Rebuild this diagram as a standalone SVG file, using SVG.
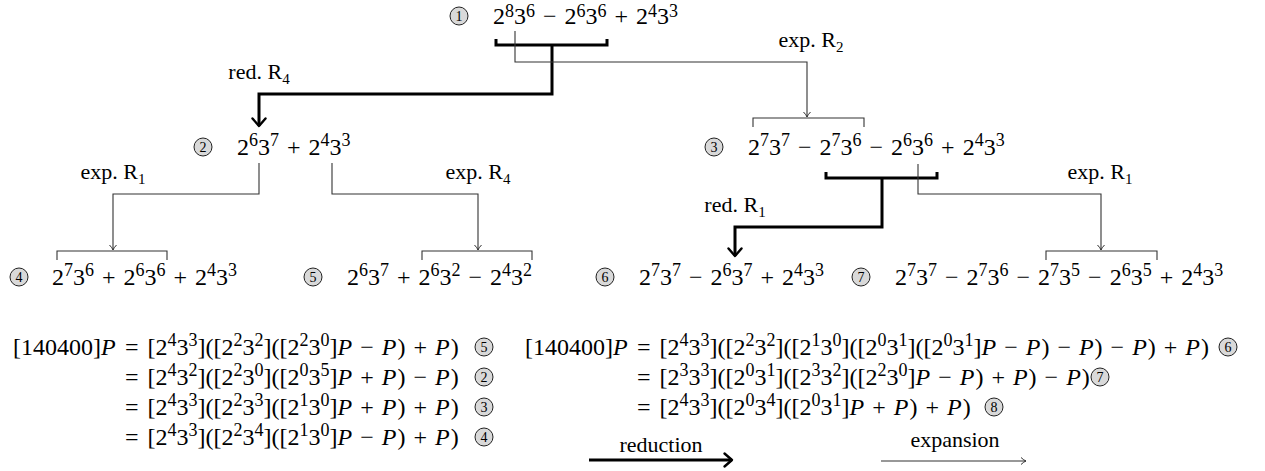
<svg xmlns="http://www.w3.org/2000/svg" width="1265" height="471" viewBox="0 0 1265 471">
<style>
.m{font-family:"Liberation Serif",serif;font-size:24px;fill:#000}
.s{font-size:18px}
.i{font-style:italic}
.lbl{font-family:"Liberation Serif",serif;font-size:22px;text-anchor:middle;fill:#000}
.sub{font-size:15px}
.thin{stroke:#333;stroke-width:1.1;fill:none}
.thick{stroke:#000;stroke-width:3;fill:none;stroke-linejoin:miter}
.cn circle{fill:#d9d9d9;stroke:#222;stroke-width:1}
.cn text{font-family:"Liberation Serif",serif;font-size:14px;text-anchor:middle;fill:#000}
</style>
<defs>
<marker id="ah" markerUnits="userSpaceOnUse" markerWidth="1" markerHeight="1" refX="0" refY="0" orient="auto" overflow="visible"><path d="M-7.5,-6.5 L0,0 L-7.5,6.5" fill="none" stroke="#000" stroke-width="2.4" stroke-linecap="round" stroke-linejoin="round"/></marker>
<marker id="at" markerUnits="userSpaceOnUse" markerWidth="1" markerHeight="1" refX="0" refY="0" orient="auto" overflow="visible"><path d="M-5,-3.5 Q-2,-0.6 0,0 Q-2,0.6 -5,3.5" fill="none" stroke="#333" stroke-width="1"/></marker>
</defs>

<g id="n1">
<g class="cn"><circle cx="459" cy="16" r="9"/><text x="459" y="21">1</text></g>
<text class="m" x="493" y="24">2<tspan class="s" dy="-7">8</tspan><tspan dy="7">3</tspan><tspan class="s" dy="-7">6</tspan><tspan dy="7" dx="8">−</tspan><tspan dx="8">2</tspan><tspan class="s" dy="-7">6</tspan><tspan dy="7">3</tspan><tspan class="s" dy="-7">6</tspan><tspan dy="7" dx="8">+</tspan><tspan dx="8">2</tspan><tspan class="s" dy="-7">4</tspan><tspan dy="7">3</tspan><tspan class="s" dy="-7">3</tspan></text>
</g>

<g id="n2">
<g class="cn"><circle cx="203" cy="147" r="9"/><text x="203" y="152">2</text></g>
<text class="m" x="237" y="155">2<tspan class="s" dy="-9">6</tspan><tspan dy="9">3</tspan><tspan class="s" dy="-9">7</tspan><tspan dy="9" dx="8">+</tspan><tspan dx="8">2</tspan><tspan class="s" dy="-9">4</tspan><tspan dy="9">3</tspan><tspan class="s" dy="-9">3</tspan></text>
</g>

<g id="n3">
<g class="cn"><circle cx="714" cy="147" r="9"/><text x="714" y="152">3</text></g>
<text class="m" x="748" y="155">2<tspan class="s" dy="-9">7</tspan><tspan dy="9">3</tspan><tspan class="s" dy="-9">7</tspan><tspan dy="9" dx="8">−</tspan><tspan dx="8">2</tspan><tspan class="s" dy="-9">7</tspan><tspan dy="9">3</tspan><tspan class="s" dy="-9">6</tspan><tspan dy="9" dx="8">−</tspan><tspan dx="8">2</tspan><tspan class="s" dy="-9">6</tspan><tspan dy="9">3</tspan><tspan class="s" dy="-9">6</tspan><tspan dy="9" dx="8">+</tspan><tspan dx="8">2</tspan><tspan class="s" dy="-9">4</tspan><tspan dy="9">3</tspan><tspan class="s" dy="-9">3</tspan></text>
</g>

<g id="n4">
<g class="cn"><circle cx="19" cy="277" r="9"/><text x="19" y="282">4</text></g>
<text class="m" x="52" y="285">2<tspan class="s" dy="-9">7</tspan><tspan dy="9">3</tspan><tspan class="s" dy="-9">6</tspan><tspan dy="9" dx="8">+</tspan><tspan dx="8">2</tspan><tspan class="s" dy="-9">6</tspan><tspan dy="9">3</tspan><tspan class="s" dy="-9">6</tspan><tspan dy="9" dx="8">+</tspan><tspan dx="8">2</tspan><tspan class="s" dy="-9">4</tspan><tspan dy="9">3</tspan><tspan class="s" dy="-9">3</tspan></text>
</g>

<g id="n5">
<g class="cn"><circle cx="313" cy="277" r="9"/><text x="313" y="282">5</text></g>
<text class="m" x="347" y="285">2<tspan class="s" dy="-9">6</tspan><tspan dy="9">3</tspan><tspan class="s" dy="-9">7</tspan><tspan dy="9" dx="8">+</tspan><tspan dx="8">2</tspan><tspan class="s" dy="-9">6</tspan><tspan dy="9">3</tspan><tspan class="s" dy="-9">2</tspan><tspan dy="9" dx="8">−</tspan><tspan dx="8">2</tspan><tspan class="s" dy="-9">4</tspan><tspan dy="9">3</tspan><tspan class="s" dy="-9">2</tspan></text>
</g>

<g id="n6">
<g class="cn"><circle cx="605" cy="277" r="9"/><text x="605" y="282">6</text></g>
<text class="m" x="639" y="285">2<tspan class="s" dy="-9">7</tspan><tspan dy="9">3</tspan><tspan class="s" dy="-9">7</tspan><tspan dy="9" dx="8">−</tspan><tspan dx="8">2</tspan><tspan class="s" dy="-9">6</tspan><tspan dy="9">3</tspan><tspan class="s" dy="-9">7</tspan><tspan dy="9" dx="8">+</tspan><tspan dx="8">2</tspan><tspan class="s" dy="-9">4</tspan><tspan dy="9">3</tspan><tspan class="s" dy="-9">3</tspan></text>
</g>

<g id="n7">
<g class="cn"><circle cx="861" cy="277" r="9"/><text x="861" y="282">7</text></g>
<text class="m" x="895" y="285">2<tspan class="s" dy="-9">7</tspan><tspan dy="9">3</tspan><tspan class="s" dy="-9">7</tspan><tspan dy="9" dx="8">−</tspan><tspan dx="8">2</tspan><tspan class="s" dy="-9">7</tspan><tspan dy="9">3</tspan><tspan class="s" dy="-9">6</tspan><tspan dy="9" dx="8">−</tspan><tspan dx="8">2</tspan><tspan class="s" dy="-9">7</tspan><tspan dy="9">3</tspan><tspan class="s" dy="-9">5</tspan><tspan dy="9" dx="8">−</tspan><tspan dx="8">2</tspan><tspan class="s" dy="-9">6</tspan><tspan dy="9">3</tspan><tspan class="s" dy="-9">5</tspan><tspan dy="9" dx="8">+</tspan><tspan dx="8">2</tspan><tspan class="s" dy="-9">4</tspan><tspan dy="9">3</tspan><tspan class="s" dy="-9">3</tspan></text>
</g>

<g id="connectors">
<path class="thick" d="M496,39 V45 H607 V39"/>
<path class="thick" d="M552,45 V94 H259 V126" marker-end="url(#ah)"/>
<path class="thin" d="M515,31 V62 H807 V117" marker-end="url(#at)"/>
<path class="thin" d="M753,127 V118 H864 V127"/>
<path class="thin" d="M259,163 V194 H113 V250" marker-end="url(#at)"/>
<path class="thin" d="M57,260 V251 H167 V260"/>
<path class="thin" d="M332,163 V194 H478 V250" marker-end="url(#at)"/>
<path class="thin" d="M422,260 V251 H532 V260"/>
<path class="thick" d="M826,172 V178 H937 V172"/>
<path class="thick" d="M882,178 V227 H735 V256" marker-end="url(#ah)"/>
<path class="thin" d="M918,164 V194 H1101 V250" marker-end="url(#at)"/>
<path class="thin" d="M1046,260 V251 H1157 V260"/>
</g>

<g id="edge-labels">
<text class="lbl" x="259" y="79">red. R<tspan class="sub" dy="5">4</tspan></text>
<text class="lbl" x="811" y="47">exp. R<tspan class="sub" dy="5">2</tspan></text>
<text class="lbl" x="113" y="179">exp. R<tspan class="sub" dy="5">1</tspan></text>
<text class="lbl" x="478" y="179">exp. R<tspan class="sub" dy="5">4</tspan></text>
<text class="lbl" x="735" y="212">red. R<tspan class="sub" dy="5">1</tspan></text>
<text class="lbl" x="1100" y="179">exp. R<tspan class="sub" dy="5">1</tspan></text>
</g>

<g id="equations-left">
<text class="m" x="13" y="355">[140400]<tspan class="i">P</tspan></text>
<text class="m" x="125" y="355">=<tspan dx="9">[2</tspan><tspan class="s" dy="-9">4</tspan><tspan dy="9">3</tspan><tspan class="s" dy="-9">3</tspan><tspan dy="9">]([2</tspan><tspan class="s" dy="-9">2</tspan><tspan dy="9">3</tspan><tspan class="s" dy="-9">2</tspan><tspan dy="9">]([2</tspan><tspan class="s" dy="-9">2</tspan><tspan dy="9">3</tspan><tspan class="s" dy="-9">0</tspan><tspan dy="9">]</tspan><tspan class="i">P</tspan><tspan dx="8">−</tspan><tspan class="i" dx="8">P</tspan><tspan dx="1">)</tspan><tspan dx="8">+</tspan><tspan class="i" dx="8">P</tspan><tspan dx="1">)</tspan></text>
<text class="m" x="125" y="385">=<tspan dx="9">[2</tspan><tspan class="s" dy="-9">4</tspan><tspan dy="9">3</tspan><tspan class="s" dy="-9">2</tspan><tspan dy="9">]([2</tspan><tspan class="s" dy="-9">2</tspan><tspan dy="9">3</tspan><tspan class="s" dy="-9">0</tspan><tspan dy="9">]([2</tspan><tspan class="s" dy="-9">0</tspan><tspan dy="9">3</tspan><tspan class="s" dy="-9">5</tspan><tspan dy="9">]</tspan><tspan class="i">P</tspan><tspan dx="8">+</tspan><tspan class="i" dx="8">P</tspan><tspan dx="1">)</tspan><tspan dx="8">−</tspan><tspan class="i" dx="8">P</tspan><tspan dx="1">)</tspan></text>
<text class="m" x="125" y="415">=<tspan dx="9">[2</tspan><tspan class="s" dy="-9">4</tspan><tspan dy="9">3</tspan><tspan class="s" dy="-9">3</tspan><tspan dy="9">]([2</tspan><tspan class="s" dy="-9">2</tspan><tspan dy="9">3</tspan><tspan class="s" dy="-9">3</tspan><tspan dy="9">]([2</tspan><tspan class="s" dy="-9">1</tspan><tspan dy="9">3</tspan><tspan class="s" dy="-9">0</tspan><tspan dy="9">]</tspan><tspan class="i">P</tspan><tspan dx="8">+</tspan><tspan class="i" dx="8">P</tspan><tspan dx="1">)</tspan><tspan dx="8">+</tspan><tspan class="i" dx="8">P</tspan><tspan dx="1">)</tspan></text>
<text class="m" x="125" y="445">=<tspan dx="9">[2</tspan><tspan class="s" dy="-9">4</tspan><tspan dy="9">3</tspan><tspan class="s" dy="-9">3</tspan><tspan dy="9">]([2</tspan><tspan class="s" dy="-9">2</tspan><tspan dy="9">3</tspan><tspan class="s" dy="-9">4</tspan><tspan dy="9">]([2</tspan><tspan class="s" dy="-9">1</tspan><tspan dy="9">3</tspan><tspan class="s" dy="-9">0</tspan><tspan dy="9">]</tspan><tspan class="i">P</tspan><tspan dx="8">−</tspan><tspan class="i" dx="8">P</tspan><tspan dx="1">)</tspan><tspan dx="8">+</tspan><tspan class="i" dx="8">P</tspan><tspan dx="1">)</tspan></text>
<g class="cn"><circle cx="484" cy="347" r="9"/><text x="484" y="352">5</text></g>
<g class="cn"><circle cx="484" cy="377" r="9"/><text x="484" y="382">2</text></g>
<g class="cn"><circle cx="484" cy="407" r="9"/><text x="484" y="412">3</text></g>
<g class="cn"><circle cx="484" cy="437" r="9"/><text x="484" y="442">4</text></g>
</g>

<g id="equations-right">
<text class="m" x="525" y="355">[140400]<tspan class="i">P</tspan></text>
<text class="m" x="637" y="355">=<tspan dx="9">[2</tspan><tspan class="s" dy="-9">4</tspan><tspan dy="9">3</tspan><tspan class="s" dy="-9">3</tspan><tspan dy="9">]([2</tspan><tspan class="s" dy="-9">2</tspan><tspan dy="9">3</tspan><tspan class="s" dy="-9">2</tspan><tspan dy="9">]([2</tspan><tspan class="s" dy="-9">1</tspan><tspan dy="9">3</tspan><tspan class="s" dy="-9">0</tspan><tspan dy="9">]([2</tspan><tspan class="s" dy="-9">0</tspan><tspan dy="9">3</tspan><tspan class="s" dy="-9">1</tspan><tspan dy="9">]([2</tspan><tspan class="s" dy="-9">0</tspan><tspan dy="9">3</tspan><tspan class="s" dy="-9">1</tspan><tspan dy="9">]</tspan><tspan class="i">P</tspan><tspan dx="8">−</tspan><tspan class="i" dx="8">P</tspan><tspan dx="1">)</tspan><tspan dx="8">−</tspan><tspan class="i" dx="8">P</tspan><tspan dx="1">)</tspan><tspan dx="8">−</tspan><tspan class="i" dx="8">P</tspan><tspan dx="1">)</tspan><tspan dx="8">+</tspan><tspan class="i" dx="8">P</tspan><tspan dx="1">)</tspan></text>
<text class="m" x="637" y="385">=<tspan dx="9">[2</tspan><tspan class="s" dy="-9">3</tspan><tspan dy="9">3</tspan><tspan class="s" dy="-9">3</tspan><tspan dy="9">]([2</tspan><tspan class="s" dy="-9">0</tspan><tspan dy="9">3</tspan><tspan class="s" dy="-9">1</tspan><tspan dy="9">]([2</tspan><tspan class="s" dy="-9">3</tspan><tspan dy="9">3</tspan><tspan class="s" dy="-9">2</tspan><tspan dy="9">]([2</tspan><tspan class="s" dy="-9">2</tspan><tspan dy="9">3</tspan><tspan class="s" dy="-9">0</tspan><tspan dy="9">]</tspan><tspan class="i">P</tspan><tspan dx="8">−</tspan><tspan class="i" dx="8">P</tspan><tspan dx="1">)</tspan><tspan dx="8">+</tspan><tspan class="i" dx="8">P</tspan><tspan dx="1">)</tspan><tspan dx="8">−</tspan><tspan class="i" dx="8">P</tspan><tspan dx="1">)</tspan></text>
<text class="m" x="637" y="415">=<tspan dx="9">[2</tspan><tspan class="s" dy="-9">4</tspan><tspan dy="9">3</tspan><tspan class="s" dy="-9">3</tspan><tspan dy="9">]([2</tspan><tspan class="s" dy="-9">0</tspan><tspan dy="9">3</tspan><tspan class="s" dy="-9">4</tspan><tspan dy="9">]([2</tspan><tspan class="s" dy="-9">0</tspan><tspan dy="9">3</tspan><tspan class="s" dy="-9">1</tspan><tspan dy="9">]</tspan><tspan class="i">P</tspan><tspan dx="8">+</tspan><tspan class="i" dx="8">P</tspan><tspan dx="1">)</tspan><tspan dx="8">+</tspan><tspan class="i" dx="8">P</tspan><tspan dx="1">)</tspan></text>
<g class="cn"><circle cx="1228" cy="347" r="9"/><text x="1228" y="352">6</text></g>
<g class="cn"><circle cx="1100" cy="377" r="9"/><text x="1100" y="382">7</text></g>
<g class="cn"><circle cx="994" cy="407" r="9"/><text x="994" y="412">8</text></g>
</g>

<g id="legend">
<text class="lbl" x="661" y="452">reduction</text>
<path class="thick" d="M589,460 H732" marker-end="url(#ah)"/>
<text class="lbl" x="955" y="447">expansion</text>
<path class="thin" d="M881,461 H1026" marker-end="url(#at)"/>
</g>
</svg>
